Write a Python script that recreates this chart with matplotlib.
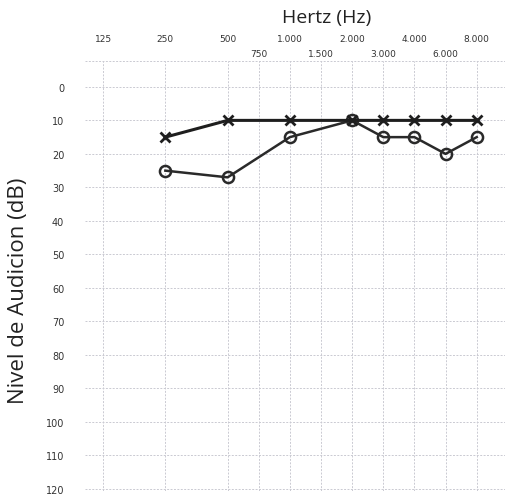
import matplotlib
matplotlib.use("Agg")
import matplotlib.pyplot as plt

# frequencies on the audiogram (octave and half-octave columns)
freq_main = ["125", "250", "500", "1.000", "2.000", "4.000", "8.000"]
freq_half = ["750", "1.500", "3.000", "6.000"]
main_pos = [0, 1, 2, 3, 4, 5, 6]
half_pos = [2.5, 3.5, 4.5, 5.5]

db_ticks = [0, 10, 20, 30, 40, 50, 60, 70, 80, 90, 100, 110, 120]

# plotted columns: 250, 500, 1000, 2000, 3000, 4000, 6000, 8000
data_pos = [1, 2, 3, 4, 4.5, 5, 5.5, 6]
left_ear = [15, 10, 10, 10, 10, 10, 10, 10]     # X marks
right_ear = [25, 27, 15, 10, 15, 15, 20, 15]    # O marks

fig = plt.figure(figsize=(5.06, 5.02), dpi=100)
ax = fig.add_axes([0.168, 0.02, 0.832, 0.857])

ax.set_xlim(-0.29, 6.47)
ax.set_ylim(120.6, -7.8)

for s in ax.spines.values():
    s.set_visible(False)

# grid
for p in main_pos + half_pos:
    ax.axvline(p, color="#cacad2", lw=0.7, ls=(0, (2, 1.5)), zorder=0)
for d in [-7.8] + db_ticks:
    ax.axhline(d, color="#cacad2", lw=0.7, ls=(0, (2, 1.5)), zorder=0)

ax.plot(data_pos, right_ear, color="#2a2a2a", lw=1.8, marker="o", ms=8,
        mfc="none", mec="#2a2a2a", mew=1.8, zorder=3)
ax.plot(data_pos, left_ear, color="#1e1e1e", lw=2.2, marker="x", ms=7,
        mew=2.0, zorder=4)

ax.xaxis.tick_top()
ax.set_xticks(main_pos, freq_main)
ax.set_xticks(half_pos, freq_half, minor=True)
ax.tick_params(axis="x", which="major", length=0, pad=13, labelsize=6.5, labelcolor="#333333")
ax.tick_params(axis="x", which="minor", length=0, pad=2, labelsize=6.5, labelcolor="#333333")
ax.set_yticks(db_ticks)
ax.tick_params(axis="y", length=0, pad=15, labelsize=7, labelcolor="#333333")

fig.text(0.645, 0.965, "Hertz (Hz)", ha="center", va="center", fontsize=14,
         family="Open Sans", color="#222222")
fig.text(0.036, 0.42, "Nivel de Audicion (dB)", ha="center", va="center", fontsize=16,
         family="Open Sans", color="#222222", rotation=90)

fig.savefig("out.png", dpi=100, facecolor="white")
